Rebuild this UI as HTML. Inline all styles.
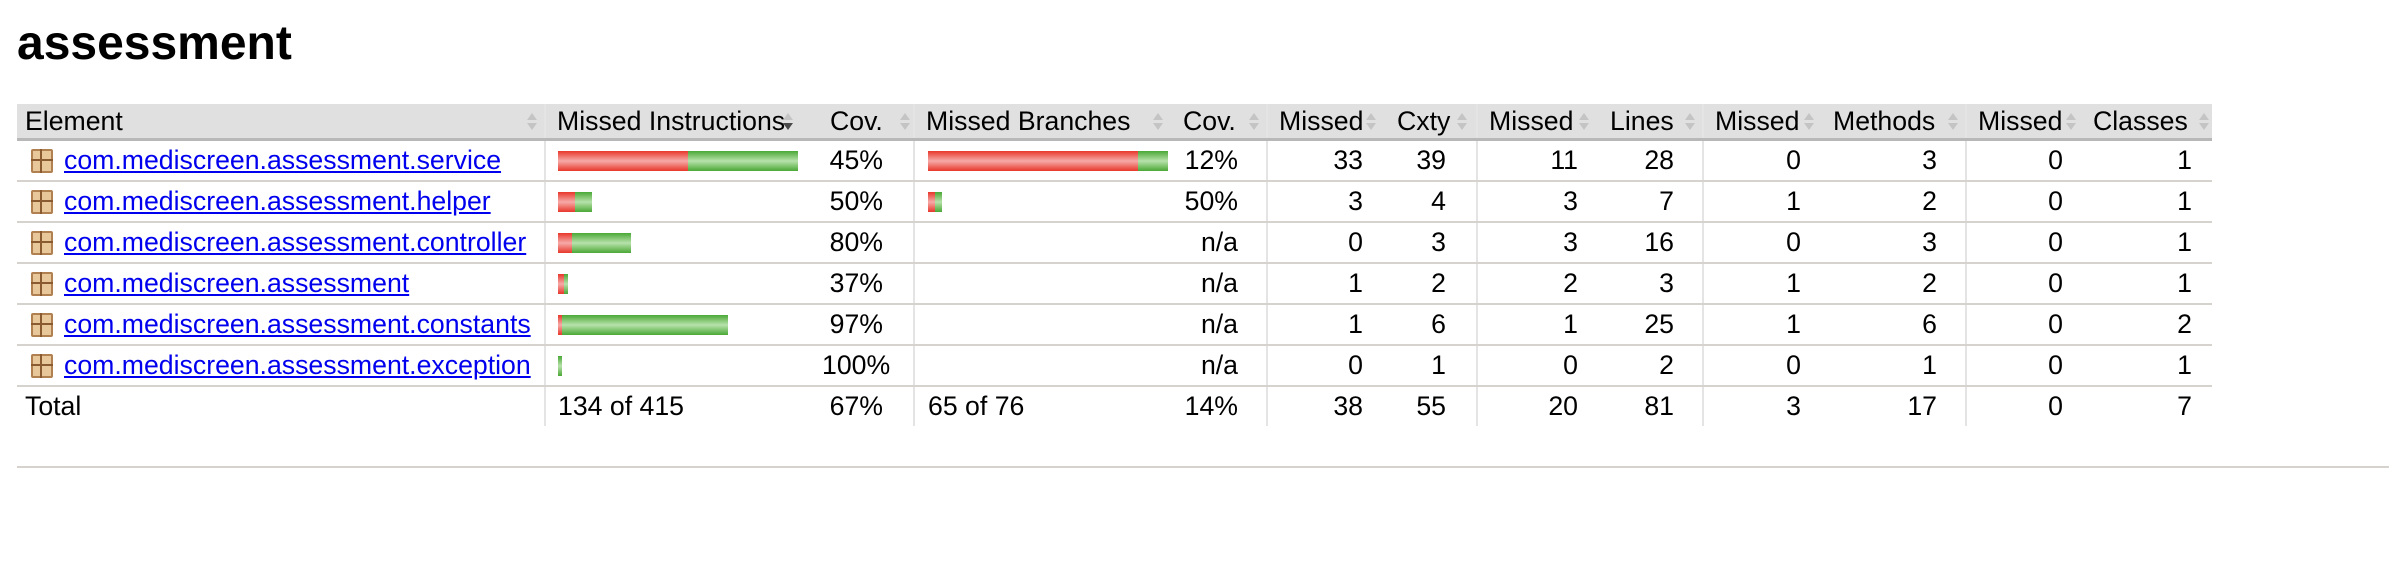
<!DOCTYPE html>
<html><head><meta charset="utf-8">
<style>
html,body{margin:0;padding:0;background:#fff;width:2406px;height:564px;overflow:hidden;font-family:"Liberation Sans",Arial,sans-serif;}
h1{position:absolute;left:17px;top:14px;margin:0;font-size:48px;font-weight:bold;line-height:60px;color:#000;}
table{position:absolute;left:17px;top:104px;border-collapse:collapse;table-layout:fixed;width:2195px;font-size:26.67px;}
th{background:#e0e0e0;height:34px;padding:0 0 0 11px;text-align:left;font-weight:normal;border-bottom:3px solid #b8b8b8;white-space:nowrap;position:relative;line-height:34px;}
td{height:39px;padding:0;border-bottom:2px solid #d6d3ce;white-space:nowrap;line-height:39px;text-align:right;}
tr.total td{border-bottom:none;}
.bl{border-left:2px solid #e4e4e4;}
.s{position:absolute;right:6px;top:9px;width:12px;height:18px;}
.s:before{content:"";position:absolute;left:1px;top:0;border-left:5px solid transparent;border-right:5px solid transparent;border-bottom:7px solid #c4c4c4;}
.s:after{content:"";position:absolute;left:1px;top:10px;border-left:5px solid transparent;border-right:5px solid transparent;border-top:7px solid #c4c4c4;}
.s.d:after{border-top-color:#4a4a4a;}
.el{text-align:left;padding-left:14px;}
.el a{color:#0000ee;text-decoration:underline;}
.ic{display:inline-block;width:22px;height:24px;vertical-align:-4px;margin-right:11px;background:#e8c89a;border:2px solid #b08050;box-sizing:border-box;position:relative;border-radius:2px;}
.ic:before{content:"";position:absolute;left:7px;top:-2px;width:2px;height:24px;background:#8a5a30;}
.ic:after{content:"";position:absolute;left:-2px;top:8px;width:22px;height:2px;background:#8a5a30;}
.bar{text-align:left;padding-left:12px;font-size:0;line-height:0;}
.bar span{display:inline-block;height:20px;vertical-align:middle;}
.r{background:linear-gradient(#e8372b,#f6aaa8 50%,#e8372b);}
.g{background:linear-gradient(#4aa836,#b7e2ab 50%,#4aa836);}
hr{position:absolute;left:17px;top:466px;width:2372px;margin:0;border:none;height:2px;background:#d6d3ce;}
</style></head>
<body>
<h1>assessment</h1>
<table>
<colgroup>
<col style="width:528px"><col style="width:277px"><col style="width:92px"><col style="width:260px"><col style="width:93px">
<col style="width:118px"><col style="width:92px"><col style="width:123px"><col style="width:103px">
<col style="width:120px"><col style="width:143px"><col style="width:119px"><col style="width:127px">
</colgroup>
<thead><tr>
<th style="padding-left:8px">Element<span class="s"></span></th>
<th class="bl">Missed Instructions<span class="s d" style="right:28px"></span></th>
<th style="padding-left:8px">Cov.<span class="s" style="right:2px"></span></th>
<th class="bl">Missed Branches<span class="s" style="right:10px"></span></th>
<th style="padding-left:9px">Cov.<span class="s" style="right:6px"></span></th>
<th class="bl">Missed<span class="s" style="right:8px"></span></th>
<th style="padding-left:12px">Cxty<span class="s" style="right:8px"></span></th>
<th class="bl">Missed<span class="s" style="right:10px"></span></th>
<th style="padding-left:10px">Lines<span class="s" style="right:6px"></span></th>
<th class="bl">Missed<span class="s" style="right:8px"></span></th>
<th style="padding-left:10px">Methods<span class="s" style="right:6px"></span></th>
<th class="bl">Missed<span class="s" style="right:8px"></span></th>
<th style="padding-left:8px">Classes<span class="s" style="right:2px"></span></th>
</tr></thead>
<tbody id="tb"></tbody>
</table>
<hr>
<script>
const packages = ["com.mediscreen.assessment.service","com.mediscreen.assessment.helper","com.mediscreen.assessment.controller","com.mediscreen.assessment","com.mediscreen.assessment.constants","com.mediscreen.assessment.exception"];
const instrMissed = [102,13,11,5,3,0];
const instrCovered = [86,13,46,3,130,3];
const instrCov = ["45%","50%","80%","37%","97%","100%"];
const branchMissed = [63,2,0,0,0,0];
const branchCovered = [9,2,0,0,0,0];
const branchCov = ["12%","50%","n/a","n/a","n/a","n/a"];
const cxtyMissed = [33,3,0,1,1,0];
const cxty = [39,4,3,2,6,1];
const linesMissed = [11,3,3,2,1,0];
const lines = [28,7,16,3,25,2];
const methodsMissed = [0,1,0,1,1,0];
const methods = [3,2,3,2,6,1];
const classesMissed = [0,0,0,0,0,0];
const classes = [1,1,1,1,2,1];
const totals = ["134 of 415","67%","65 of 76","14%","38","55","20","81","3","17","0","7"];

const tb = document.getElementById('tb');
const iMax = Math.max(...instrMissed.map((m,i)=>m+instrCovered[i]));
const bMax = Math.max(...branchMissed.map((m,i)=>m+branchCovered[i]));
const BARW = 240;
function bar(td, m, c, max){
  if (m + c === 0) return;
  const rw = Math.round(m*BARW/max), gw = Math.round(c*BARW/max);
  if (rw>0){ const s=document.createElement('span'); s.className='r'; s.style.width=rw+'px';
    
    
    td.appendChild(s);}
  if (gw>0){ const s=document.createElement('span'); s.className='g'; s.style.width=gw+'px';
    
    
    td.appendChild(s);}
}
const pads=[null,null,30,null,28,22,30,22,28,22,28,22,20];
function cell(tr, txt, idx, name){
  const td=document.createElement('td');
  td.textContent=txt;
  td.style.paddingRight=pads[idx]+'px';
  if([5,7,9,11].includes(idx)) td.className='bl';
  
  
  tr.appendChild(td);
}
const names=["","","instruction-coverage","","branch-coverage","missed-complexity","complexity","missed-lines","lines","missed-methods","methods","missed-classes","classes"];
packages.forEach((p,i)=>{
  const tr=document.createElement('tr');
  
  
  const td0=document.createElement('td'); td0.className='el';
  
  
  const ic=document.createElement('span'); ic.className='ic';
  
  
  const a=document.createElement('a'); a.href='#'; a.textContent=p;
  
  
  td0.appendChild(ic); td0.appendChild(a); tr.appendChild(td0);
  const t1=document.createElement('td'); t1.className='bar bl';
  
  
  bar(t1,instrMissed[i],instrCovered[i],iMax); tr.appendChild(t1);
  cell(tr,instrCov[i],2,names[2]);
  const t3=document.createElement('td'); t3.className='bar bl';
  t3.style.paddingLeft='13px';
  
  
  bar(t3,branchMissed[i],branchCovered[i],bMax); tr.appendChild(t3);
  cell(tr,branchCov[i],4,names[4]);
  const vals=[cxtyMissed[i],cxty[i],linesMissed[i],lines[i],methodsMissed[i],methods[i],classesMissed[i],classes[i]];
  vals.forEach((v,k)=>cell(tr,String(v),5+k,names[5+k]));
  tb.appendChild(tr);
});
const tr=document.createElement('tr'); tr.className='total';


const tt=document.createElement('td'); tt.className='el'; tt.style.paddingLeft='8px'; tt.textContent='Total';


tr.appendChild(tt);
totals.forEach((v,k)=>{
  const idx=k+1;
  const td=document.createElement('td');
  td.textContent=v;
  if(idx===1||idx===3){ td.style.textAlign='left'; td.style.paddingLeft=(idx===1?'12px':'13px'); td.className='bl'; }
  else { td.style.paddingRight=pads[idx]+'px'; if([5,7,9,11].includes(idx)) td.className='bl'; }
  
  
  tr.appendChild(td);
});
tb.appendChild(tr);
</script>
</body></html>
